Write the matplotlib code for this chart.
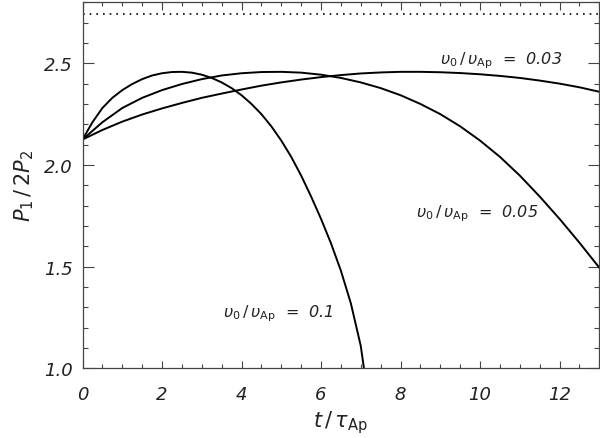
import matplotlib
matplotlib.use("Agg")
import matplotlib.pyplot as plt
from matplotlib.ticker import MultipleLocator

plt.rcParams['mathtext.fontset'] = 'dejavusans'
plt.rcParams['font.family'] = ['DejaVu Sans']

# curves: P1/2P2 against t/tau_Ap
t_fast = [0, 0.25, 0.5, 0.75, 1.0, 1.25, 1.5, 1.75, 2.0, 2.25, 2.5, 2.75, 3.0, 3.25,
          3.5, 3.75, 4.0, 4.25, 4.5, 4.75, 5.0, 5.25, 5.5, 5.75, 6.0, 6.25, 6.5,
          6.75, 7.0, 7.08]
p_fast = [2.125, 2.21, 2.28, 2.33, 2.368, 2.398, 2.422, 2.44, 2.451, 2.457, 2.458,
          2.454, 2.444, 2.428, 2.406, 2.378, 2.343, 2.30, 2.25, 2.19, 2.12, 2.04,
          1.948, 1.845, 1.735, 1.615, 1.48, 1.32, 1.11, 1.0]

t_mid = [0, 0.5, 1.0, 1.5, 2.0, 2.5, 3.0, 3.5, 4.0, 4.5, 5.0, 5.5, 6.0, 6.5, 7.0,
         7.5, 8.0, 8.5, 9.0, 9.5, 10.0, 10.5, 11.0, 11.5, 12.0, 12.5, 13.0]
p_mid = [2.125, 2.21, 2.28, 2.33, 2.368, 2.398, 2.422, 2.44, 2.451, 2.457, 2.458,
         2.454, 2.444, 2.428, 2.406, 2.378, 2.343, 2.30, 2.25, 2.19, 2.12, 2.04,
         1.948, 1.845, 1.735, 1.618, 1.495]

t_slow = [0, 0.5, 1.0, 1.5, 2.0, 2.5, 3.0, 3.5, 4.0, 4.5, 5.0, 5.5, 6.0, 6.5, 7.0,
          7.5, 8.0, 8.5, 9.0, 9.5, 10.0, 10.5, 11.0, 11.5, 12.0, 12.5, 13.0]
p_slow = [2.125, 2.172, 2.213, 2.248, 2.278, 2.305, 2.33, 2.351, 2.371, 2.39, 2.406,
          2.42, 2.432, 2.442, 2.45, 2.455, 2.458, 2.458, 2.456, 2.452, 2.446, 2.438,
          2.428, 2.415, 2.40, 2.382, 2.36]

limit_value = 2.74

labels = [r'$\upsilon_0\,/\,\upsilon_{\rm Ap}$  =  0.03',
          r'$\upsilon_0\,/\,\upsilon_{\rm Ap}$  =  0.05',
          r'$\upsilon_0\,/\,\upsilon_{\rm Ap}$  =  0.1']
label_pos = [(10.54, 2.52), (9.94, 1.765), (4.93, 1.275)]

fig = plt.figure(figsize=(6.0, 4.39), dpi=100)
ax = fig.add_axes([0.1375, 0.1588, 0.8613, 0.8337])

ax.plot(t_fast, p_fast, color='black', lw=1.4)
ax.plot(t_mid, p_mid, color='black', lw=1.4)
ax.plot(t_slow, p_slow, color='black', lw=1.4)
ax.axhline(limit_value, color='black', lw=1.2, linestyle=(0, (1, 3)))

for txt, (x, y) in zip(labels, label_pos):
    ax.text(x, y, txt, fontsize=11.5, style='italic', color='#222222',
            ha='center', va='center')

ax.set_xlim(0, 13)
ax.set_ylim(1.0, 2.8)
ax.xaxis.set_major_locator(MultipleLocator(2))
ax.xaxis.set_minor_locator(MultipleLocator(0.5))
ax.yaxis.set_major_locator(MultipleLocator(0.5))
ax.yaxis.set_minor_locator(MultipleLocator(0.1))
ax.xaxis.set_major_formatter(plt.FuncFormatter(lambda v, p: f"{v:.0f}"))
ax.yaxis.set_major_formatter(plt.FuncFormatter(lambda v, p: f"{v:.1f}"))

ax.tick_params(which='both', direction='in', top=True, right=True, color='#444444')
ax.tick_params(axis='x', which='major', length=5.4, width=0.8, pad=12)
ax.tick_params(axis='x', which='minor', length=3.0, width=0.8)
ax.tick_params(axis='y', which='major', length=7.6, width=0.8, pad=7)
ax.tick_params(axis='y', which='minor', length=3.6, width=0.8)
for lab in ax.get_xticklabels() + ax.get_yticklabels():
    lab.set_fontsize(13)
    lab.set_style('italic')
    lab.set_color('#222222')
for s in ax.spines.values():
    s.set_color('#444444')
    s.set_linewidth(0.9)

ax.set_xlabel(r'$t\,/\,\tau_{\rm Ap}$', fontsize=15, color='#222222', labelpad=4)
ax.set_ylabel(r'$P_1\,/\,2P_2$', fontsize=15, color='#222222', labelpad=6)

fig.savefig('out.png', dpi=100)
